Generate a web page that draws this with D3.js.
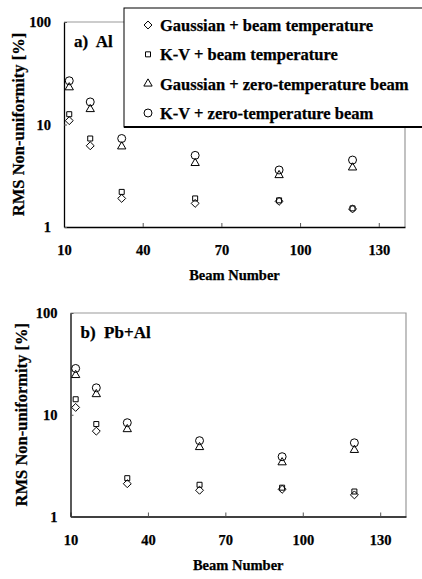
<!DOCTYPE html>
<html>
<head>
<meta charset="utf-8">
<script src="https://cdn.jsdelivr.net/npm/d3@7"></script>
<style>
  body { margin: 0; background: #fff; }
  svg text { font-family: "Liberation Serif", "DejaVu Serif", "Times New Roman", serif; font-weight: bold; fill: #000; stroke: #000; stroke-width: 0.25px; }
</style>
</head>
<body>
<svg id="chart" width="422" height="579"></svg>
<script>
// data
const beamNumbers = [12, 20, 32, 60, 92, 120];
const xTicks = [10, 40, 70, 100, 130];
const yTicks = [1, 10, 100];

const alGaussTemp = [10.9, 6.2, 1.9, 1.7, 1.78, 1.5];
const alKVTemp = [12.6, 7.3, 2.2, 1.9, 1.82, 1.52];
const alGaussZero = [23, 14.1, 6.1, 4.2, 3.2, 3.8];
const alKVZero = [26.7, 16.6, 7.3, 5.0, 3.6, 4.5];

const pbGaussTemp = [11.8, 6.9, 2.1, 1.81, 1.85, 1.63];
const pbKVTemp = [14.2, 8.1, 2.38, 2.05, 1.92, 1.76];
const pbGaussZero = [24.5, 15.9, 7.2, 4.8, 3.4, 4.5];
const pbKVZero = [28.5, 18.4, 8.35, 5.56, 3.87, 5.3];

const seriesNames = [
  'Gaussian + beam temperature',
  'K-V + beam temperature',
  'Gaussian + zero-temperature beam',
  'K-V + zero-temperature beam'
];

const shapes = [
  d3.symbol().type(d3.symbolDiamond2).size(40),
  d3.symbol().type(d3.symbolSquare).size(25),
  d3.symbol().type(d3.symbolTriangle).size(30),
  d3.symbol().type(d3.symbolCircle).size(50)
];

const svg = d3.select('#chart');

function drawPanel(opts) {
  const { left, right, top, bottom, label, series, titleX } = opts;

  const x = d3.scaleLinear().domain([10, 140]).range([left, right]);
  const y = d3.scaleLog().domain([1, 100]).range([bottom, top]);

  const g = svg.append('g');

  // grey frame on top and right
  g.append('path')
    .attr('d', `M${left},${top}H${right}V${bottom}`)
    .attr('fill', 'none')
    .attr('stroke', '#999')
    .attr('stroke-width', 1.2);

  g.append('g')
    .attr('transform', `translate(0,${bottom})`)
    .call(d3.axisBottom(x).tickValues(xTicks).tickSizeInner(-4).tickSizeOuter(0).tickPadding(18))
    .call(a => a.selectAll('text').style('font-size', '14.5px').attr('font-family', null))
    .call(a => a.select('.domain').attr('stroke-width', 1.3));

  g.append('g')
    .attr('transform', `translate(${left},0)`)
    .call(d3.axisLeft(y).tickValues(yTicks).tickFormat(d3.format('d')).tickSizeInner(-3).tickSizeOuter(0).tickPadding(13))
    .call(a => a.selectAll('text').style('font-size', '14.5px').attr('font-family', null))
    .call(a => a.select('.domain').attr('stroke-width', 1.3));

  g.selectAll('.tick line').attr('stroke', '#555');

  g.append('text')
    .attr('x', (left + right) / 2)
    .attr('y', bottom + 53)
    .attr('text-anchor', 'middle')
    .style('font-size', '14.5px')
    .text('Beam Number');

  g.append('text')
    .attr('transform', `translate(${titleX},${(top + bottom) / 2}) rotate(-90)`)
    .attr('text-anchor', 'middle')
    .style('font-size', '16.5px')
    .text('RMS Non-uniformity [%]');

  g.append('text')
    .attr('x', left + 10)
    .attr('y', top + 25)
    .attr('xml:space', 'preserve')
    .style('font-size', '17px')
    .text(label);

  series.forEach((vals, si) => {
    g.append('g')
      .selectAll('path')
      .data(vals)
      .join('path')
      .attr('transform', (d, i) => `translate(${x(beamNumbers[i])},${y(d)})`)
      .attr('d', shapes[si])
      .attr('fill', 'none')
      .attr('stroke', '#000')
      .attr('stroke-width', 1);
  });
}

drawPanel({
  left: 64, right: 405, top: 22, bottom: 227, titleX: 24,
  label: 'a)  Al',
  series: [alGaussTemp, alKVTemp, alGaussZero, alKVZero]
});

drawPanel({
  left: 70.5, right: 406, top: 313, bottom: 516.5, titleX: 27,
  label: 'b)  Pb+Al',
  series: [pbGaussTemp, pbKVTemp, pbGaussZero, pbKVZero]
});

// legend box for panel a
const legend = svg.append('g');
legend.append('rect')
  .attr('x', 124).attr('y', 8)
  .attr('width', 310).attr('height', 119)
  .attr('fill', '#fff')
  .attr('stroke', '#000')
  .attr('stroke-width', 1);
legend.append('line')
  .attr('x1', 124).attr('x2', 422)
  .attr('y1', 127).attr('y2', 127)
  .attr('stroke', '#000')
  .attr('stroke-width', 2);

const rowY = d3.scalePoint().domain(d3.range(seriesNames.length)).range([25, 113]);
seriesNames.forEach((name, i) => {
  legend.append('path')
    .attr('transform', `translate(148,${rowY(i)})`)
    .attr('d', shapes[i])
    .attr('fill', 'none')
    .attr('stroke', '#000');
  legend.append('text')
    .attr('x', 160)
    .attr('y', rowY(i) + 6)
    .style('font-size', '16.5px')
    .text(name);
});
</script>
</body>
</html>
